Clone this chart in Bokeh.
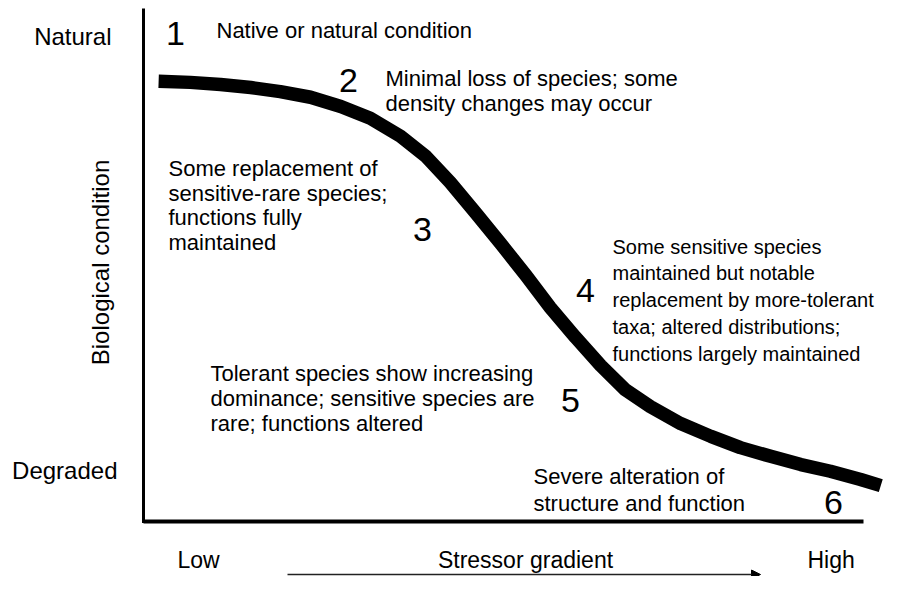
import math
from bokeh.plotting import figure
from bokeh.models import Range1d, Arrow, NormalHead
from bokeh.core.properties import value
from bokeh.embed import file_html
from bokeh.resources import INLINE

# ---------------- data ----------------
# Stressor gradient (0 = low, 100 = high) and biological condition (0 = degraded, 100 = natural)
stressor = [2.1, 6.5, 10.7, 14.9, 19.0, 23.2, 27.4, 31.5, 35.7, 39.2, 42.6, 46.1,
            49.6, 53.1, 56.5, 60.0, 63.5, 66.9, 70.4, 74.6, 78.8, 82.9, 87.1,
            91.3, 95.4, 99.6, 102.4]
condition = [85.8, 85.6, 85.2, 84.6, 83.8, 82.7, 80.9, 78.6, 75.1, 71.2, 66.1, 60.2,
             54.2, 48.0, 41.7, 35.9, 30.4, 25.7, 22.4, 19.1, 16.6, 14.4, 12.7,
             11.1, 9.8, 8.2, 7.0]

stage_numbers = ["1", "2", "3", "4", "5", "6"]
stage_text = [
    ["Native or natural condition"],
    ["Minimal loss of species; some", "density changes may occur"],
    ["Some replacement  of", "sensitive-rare species;", "functions fully", "maintained"],
    ["Some sensitive species", "maintained but notable", "replacement by more-tolerant",
     "taxa; altered distributions;", "functions largely maintained"],
    ["Tolerant species show increasing", "dominance; sensitive species are",
     "rare; functions altered"],
    ["Severe alteration of", "structure and function"],
]
y_tick_labels = ["Natural", "Degraded"]
x_tick_labels = ["Low", "High"]
x_title = "Stressor gradient"
y_title = "Biological condition"

axis_x = [0, 100]     # stressor extent of the axis
axis_y = [0, 100]     # condition extent of the axis

# ---------------- layout ----------------
W, H = 893, 576
X0, XS = 143.0, 7.2     # pixel of stressor 0, pixels per unit
Y0, YS = 521.0, 5.13    # pixel of condition 0, pixels per unit


def pos(px, py):
    return (px - X0) / XS, (Y0 - py) / YS


FONT = value("Liberation Sans")

p = figure(width=W, height=H, output_backend="svg", toolbar_location=None,
           x_range=Range1d(-X0 / XS, (W - X0) / XS),
           y_range=Range1d((Y0 - H) / YS, Y0 / YS),
           min_border=0, outline_line_color=None)
p.axis.visible = False
p.grid.visible = False
p.background_fill_color = "white"
p.border_fill_color = "white"

# axes lines
p.line([axis_x[0], axis_x[0]], [axis_y[0] - 0.3, axis_y[1]], line_color="black", line_width=3)
p.line([axis_x[0], axis_x[1]], [axis_y[0], axis_y[0]], line_color="black", line_width=4)

# the curve
p.line(stressor, condition, line_color="black", line_width=13.5, line_join="round")

# stage numbers
num_pos = [(175, 33), (348, 80), (422, 229), (585, 290), (570, 400), (833, 502)]
nx, ny = zip(*[pos(a, b) for a, b in num_pos])
p.text(x=list(nx), y=list(ny), text=stage_numbers, text_font=FONT,
       text_font_size=value("34px"), text_align="center", text_baseline="middle",
       text_color="black")

# stage descriptions: (left px, first-line px, line step, font size)
block_pos = [(216, 30, 25, 22), (385, 78, 25, 22), (168, 168, 24.5, 22),
             (612, 246, 26.75, 20), (210, 373, 25, 22), (533, 476, 27, 22)]
for (left, top, step, fs), lines in zip(block_pos, stage_text):
    tx, ty = [], []
    for i, line in enumerate(lines):
        a, b = pos(left, top + i * step)
        tx.append(a); ty.append(b)
    p.text(x=tx, y=ty, text=lines, text_font=FONT, text_font_size=value(f"{fs}px"),
           text_align="left", text_baseline="middle", text_color="black")

# y labels
ylx, yly = zip(*[pos(111, 36), pos(117, 470)])
p.text(x=list(ylx), y=list(yly), text=y_tick_labels, text_font=FONT,
       text_font_size=value("24px"), text_align="right", text_baseline="middle")
tx_, ty_ = pos(100, 262)
p.text(x=[tx_], y=[ty_], text=[y_title], angle=math.pi / 2, text_font=FONT,
       text_font_size=value("24px"), text_align="center", text_baseline="middle")

# x labels
xlx, xly = zip(*[pos(177, 559), pos(807, 559)])
p.text(x=list(xlx), y=list(xly), text=x_tick_labels, text_font=FONT,
       text_font_size=value("23px"), text_align="left", text_baseline="middle")
sx_, sy_ = pos(525, 559)
p.text(x=[sx_], y=[sy_], text=[x_title], text_font=FONT,
       text_font_size=value("23px"), text_align="center", text_baseline="middle")

a0x, a0y = pos(287, 574)
a1x, a1y = pos(760, 574)
p.add_layout(Arrow(x_start=a0x, y_start=a0y, x_end=a1x, y_end=a1y, line_width=1.5,
                   line_color="#222222",
                   end=NormalHead(size=9, fill_color="black", line_color="black")))

open("out.html", "w").write(file_html(p, INLINE))
